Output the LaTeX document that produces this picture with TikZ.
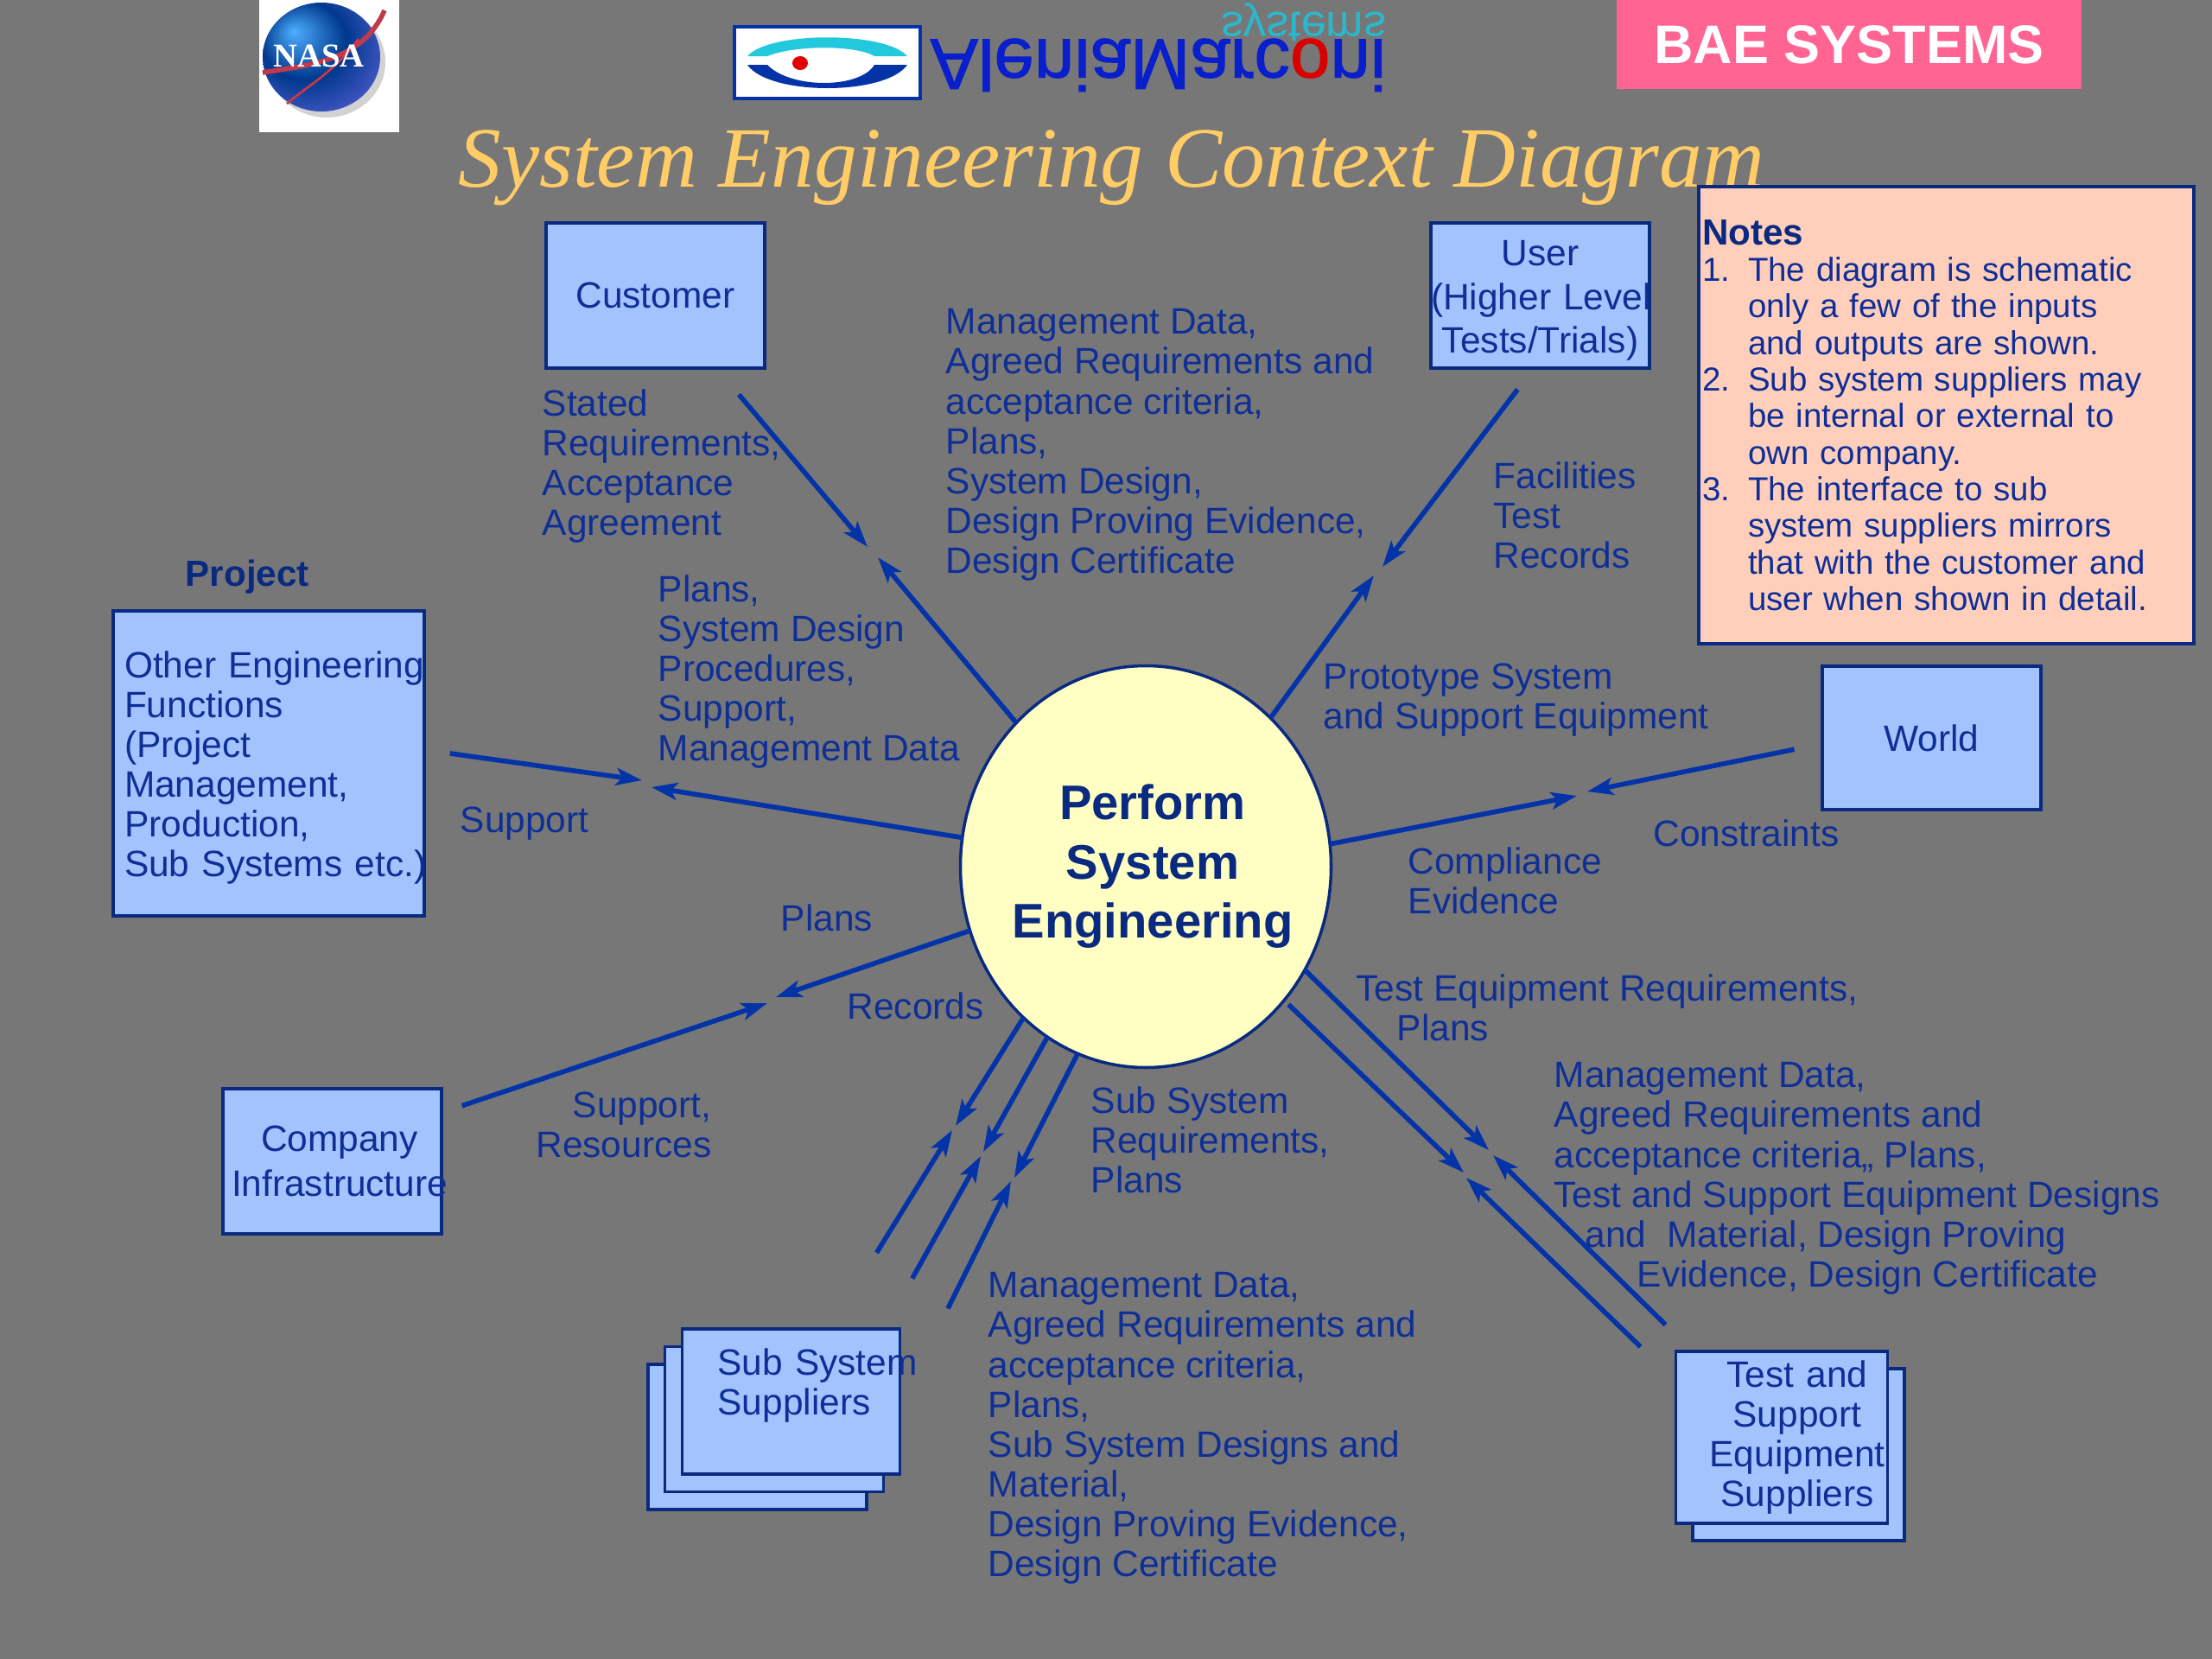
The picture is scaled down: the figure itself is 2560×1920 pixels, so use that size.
\documentclass[tikz,border=0pt]{standalone}
\usepackage{fontspec}
\setmainfont{Liberation Sans}
\newfontfamily\titlefont{Liberation Serif}
\newfontfamily\logofont[FakeBold=1.2]{Liberation Sans}
\usepackage{tikz}
\usetikzlibrary{arrows.meta,positioning,shapes.geometric}
\definecolor{slide}{HTML}{777777}
\definecolor{ink}{HTML}{0F2F96}
\definecolor{navy}{HTML}{0A2A80}
\definecolor{flow}{HTML}{0433A8}
\definecolor{boxfill}{HTML}{A3C3FF}
\definecolor{lemon}{HTML}{FFFFC4}
\definecolor{peach}{HTML}{FFCFBC}
\definecolor{gold}{HTML}{FFCC66}
\definecolor{pinkbar}{HTML}{FF6493}
\definecolor{eyecyan}{HTML}{22C8DC}
\definecolor{wordblue}{HTML}{0A1FCC}
\definecolor{wordcyan}{HTML}{2AB8CC}
\definecolor{swoosh}{HTML}{C03A4C}
\pgfdeclareradialshading{globe}{\pgfpoint{-12bp}{12bp}}{color(0bp)=(blue!45!cyan!70!white); color(18bp)=(blue!60!cyan!55!black); color(40bp)=(blue!80!black!60); color(50bp)=(blue!70!black!55)}
\newcommand{\nitem}[1]{\makebox[5.3mm][l]{#1}}
\newcommand{\nhang}{\hspace*{5.3mm}}
\newcommand{\midline}[1]{\hspace*{1.6mm}\makebox[0pt]{#1}}

\begin{document}
\begin{tikzpicture}[x=0.1mm,y=-0.1mm, line/.style={draw=flow,line width=1.6pt,-{Stealth[length=3mm,width=2mm,inset=0.7mm]}},
  block/.style={rectangle,draw=navy,fill=boxfill,line width=1pt,inner sep=0pt,outer sep=0pt,text width=25.3mm,minimum height=16.8mm,align=center,text=ink,font=\fontsize{12.08}{13.1}\selectfont},
  tag/.style={inner sep=0pt,align=left,text=ink,font=\fontsize{12.08}{13.1}\selectfont},
  head/.style={tag,font=\bfseries\fontsize{12}{13.1}\selectfont,text=navy}]
\path[use as bounding box,fill=slide] (0,0) rectangle (2560,1920);
% logos
\node[fill=white,minimum width=16.2mm,minimum height=15.3mm,inner sep=0pt,outer sep=0pt,anchor=north west] (nasa) at (300,0) {};
\fill[gray!35] (378,72) ellipse (68 and 64);
\shade[shading=globe] (372,66) ellipse (68 and 63);
\draw[swoosh,line width=1.6pt] (445,12) .. controls (420,70) and (360,75) .. (304,84);
\draw[swoosh,line width=0.8pt] (332,120) .. controls (355,100) and (385,85) .. (415,45);
\node[inner sep=0pt,text=white,font=\titlefont\bfseries\fontsize{11}{11}\selectfont] (nasatxt) at (369,65) {NASA};
\node[draw=flow,fill=white,line width=1pt,minimum width=21.5mm,minimum height=8.3mm,inner sep=0pt,outer sep=0pt,anchor=north west] (eye) at (850,31) {};
\fill[eyecyan] (865,65) .. controls (890,36) and (1025,36) .. (1050,65) -- (1012,65) .. controls (990,52) and (920,52) .. (888,65) -- cycle;
\fill[flow] (865,75) .. controls (890,111) and (1025,111) .. (1050,75) -- (1012,75) .. controls (995,103) and (915,103) .. (888,75) -- cycle;
\fill[red!90!black] (926,73) ellipse (9 and 8);
\node[inner sep=0pt,anchor=north east,text=wordblue,font=\logofont\fontsize{23.7}{24}\selectfont] (alenia) at (1605,44) {\scalebox{1}[-1]{AleniaMarc{\color{red!85!black}o}ni}};
\node[inner sep=0pt,anchor=north east,text=wordcyan,font=\fontsize{14.8}{15}\selectfont] (syst) at (1605,3) {\scalebox{1}[-1]{systems}};
\node[fill=pinkbar,minimum width=53.8mm,minimum height=10.3mm,inner sep=0pt,outer sep=0pt,text=white,font=\bfseries\fontsize{17.9}{19}\selectfont,anchor=north west] (bae) at (1871,0) {BAE SYSTEMS};
\node[inner sep=0pt,anchor=base west,text=gold,font=\titlefont\itshape\fontsize{28.3}{30}\selectfont] (title) at (530,216) {System Engineering Context Diagram};
% centre
\node[ellipse,draw=navy,fill=lemon,line width=1pt,minimum width=42.9mm,minimum height=46.5mm,inner sep=0pt,outer sep=0pt,align=center,text=navy,font=\bfseries\fontsize{16}{19.5}\selectfont] (se) at (1326,1003) {\midline{Perform}\\\midline{System}\\\midline{Engineering}};
% boxes
\node[block,above left=57.7mm and 44.1mm of se.center] (cust) {Customer};
\node[block,above right=57.7mm and 33mm of se.center] (usr) {\rule{0pt}{11.6pt}User\\[1.4pt]\mbox{(Higher Level}\\[1.4pt]\mbox{Tests/Trials)}};
\node[block,above left=-5.7mm and 83.5mm of se.center,text width=33.4mm,inner xsep=1.3mm,minimum height=35.3mm,align=left] (oth) {\rule{0pt}{11.6pt}\mbox{Other Engineering}\\Functions\\(Project\\Management,\\Production,\\\mbox{Sub Systems etc.)}};
\node[block,above right=6.6mm and 78.3mm of se.center,minimum height=16.6mm] (wld) {World};
\node[block,below left=25.7mm and 81.5mm of se.center,align=left] (comp) {\hspace*{4.4mm}Company\\[1.7pt]\hspace*{1mm}\mbox{Infrastructure}};
\node[block,below left=57.6mm and 32.3mm of se.center] (subc) {};
\node[block,xshift=1.95mm,yshift=2.05mm] (subb) at (subc) {};
\node[block,xshift=1.95mm,yshift=2.05mm,text width=17mm,inner xsep=4.1mm,align=left] (sub) at (subb) {\mbox{Sub System}\\Suppliers\\\mbox{}};
\node[block,below right=58.1mm and 63.3mm of se.center,text width=24.5mm,minimum height=19.9mm] (tstb) {};
\node[block,xshift=-1.95mm,yshift=2mm,text width=24.5mm,minimum height=19.9mm] (tst) at (tstb) {\hspace*{3.6mm}Test and\\\hspace*{3.6mm}Support\\\hspace*{3.6mm}\mbox{Equipment}\\\hspace*{3.6mm}Suppliers};
\node[rectangle,draw=navy,fill=peach,line width=1pt,inner xsep=0.4mm,inner ysep=0pt,outer sep=0pt,text width=56.5mm,minimum height=52.9mm,align=left,text=ink,font=\fontsize{10.95}{12.05}\selectfont,below right=-4.2mm and 5.7mm of usr.north east] (nts) {{\bfseries\fontsize{12}{12.05}\selectfont\color{navy}Notes}\\\nitem{1.}The diagram is schematic\\\nhang only a few of the inputs\\\nhang and outputs are shown.\\\nitem{2.}Sub system suppliers may\\\nhang be internal or external to\\\nhang own company.\\\nitem{3.}The interface to sub\\\nhang system suppliers mirrors\\\nhang that with the customer and\\\nhang user when shown in detail.};
% arrow tips
\coordinate (custa) at (1004,633);
\coordinate (custb) at (1016,645);
\coordinate (usra) at (1600,656);
\coordinate (usrb) at (1590,666);
\coordinate (wlda) at (1837,916);
\coordinate (wldb) at (1825,921);
\coordinate (otha) at (743,903);
\coordinate (othb) at (754,911);
\coordinate (compa) at (888,1161);
\coordinate (compb) at (898,1154);
\coordinate (suba) at (1102,1308);
\coordinate (subb1) at (1106,1303);
\coordinate (subc1) at (1135,1338);
\coordinate (subd) at (1138,1333);
\coordinate (sube) at (1170,1367);
\coordinate (subf) at (1174,1363);
\coordinate (tsta) at (1728,1337);
\coordinate (tstb1) at (1723,1331);
\coordinate (tstc) at (1697,1363);
\coordinate (tstd) at (1694,1357);
% connectors
\draw[line,shorten <=4mm] (cust) -- (custa);
\draw[line] (se.132) -- (custb);
\draw[line,shorten <=3.1mm] (usr.-95) -- (usra);
\draw[line] (se.50.7) -- (usrb);
\draw[line,shorten <=3.3mm] (wld.183) -- (wlda);
\draw[line] (se.7.9) -- (wldb);
\draw[line,shorten <=3mm] (oth.5.7) -- (otha);
\draw[line] (se.171.2) -- (othb);
\draw[line,shorten <=2.5mm] (comp.24) -- (compa);
\draw[line] (se.200.3) -- (compb);
\draw[line,shorten <=10.35mm] (sub.62.6) -- (suba);
\draw[line] (se.231.4) -- (subb1);
\draw[line,shorten <=6.7mm] (sub.38.7) -- (subc1);
\draw[line] (se.240.5) -- (subd);
\draw[line,shorten <=12.5mm] (sub.-2.7) -- (sube);
\draw[line] (se.250.2) -- (subf);
\draw[line,shorten <=4.4mm] (tst.136) -- (tsta);
\draw[line] (se.-33.4) -- (tstb1);
\draw[line,shorten <=5.7mm] (tst.152.6) -- (tstc);
\draw[line,shorten <=0.7mm] (se.-44) -- (tstd);
% labels
\node[tag,below right=2.4mm and -0.5mm of cust.south west] (stated) {Stated\\Requirements,\\Acceptance\\Agreement};
\node[tag,below right=9.9mm and 20.9mm of cust.north east] (mgmt) {Management Data,\\Agreed Requirements and\\acceptance criteria,\\Plans,\\System Design,\\Design Proving Evidence,\\Design Certificate};
\node[tag,below right=10.8mm and 7.2mm of usr.south west] (fac) {Facilities\\Test\\Records};
\node[tag,below right=23.9mm and 12.9mm of cust.south west] (plans) {Plans,\\System Design\\Procedures,\\Support,\\Management Data};
\node[tag,below right=-23.6mm and 20.5mm of se.center] (proto) {Prototype System\\and Support Equipment};
\node[head,below right=-6mm and 8.3mm of oth.north west] (proj) {Project};
\node[tag,below right=22.6mm and 4.1mm of oth.north east] (supp) {Support};
\node[tag,below right=4.3mm and -42.3mm of se.center] (plan2) {Plans};
\node[tag,below right=14.5mm and -34.6mm of se.center] (rec) {Records};
\node[tag,below left=26mm and 50.2mm of se.center,align=right] (res) {Support,\\Resources};
\node[tag,below right=-5.5mm and 58.7mm of se.center] (con) {Constraints};
\node[tag,below right=-2.3mm and 30.3mm of se.center] (evid) {Compliance\\Evidence};
\node[tag,below right=12.4mm and 24.3mm of se.center] (teq) {Test Equipment Requirements,\\\hspace*{4.7mm}Plans};
\node[tag,below right=25.4mm and -6.4mm of se.center] (ssr) {Sub System\\Requirements,\\Plans};
\node[tag,below right=22.6mm and 47.2mm of se.center] (mgmtt) {Management Data,\\Agreed Requirements and\\acceptance criteria,, Plans,\\Test and Support Equipment Designs\\\hspace*{3.6mm}and~~Material, Design Proving\\\hspace*{9.6mm}Evidence, Design Certificate};
\node[tag,below right=46.9mm and -18.3mm of se.center] (mgmts) {Management Data,\\Agreed Requirements and\\acceptance criteria,\\Plans,\\Sub System Designs and\\Material,\\Design Proving Evidence,\\Design Certificate};
\end{tikzpicture}
\end{document}
